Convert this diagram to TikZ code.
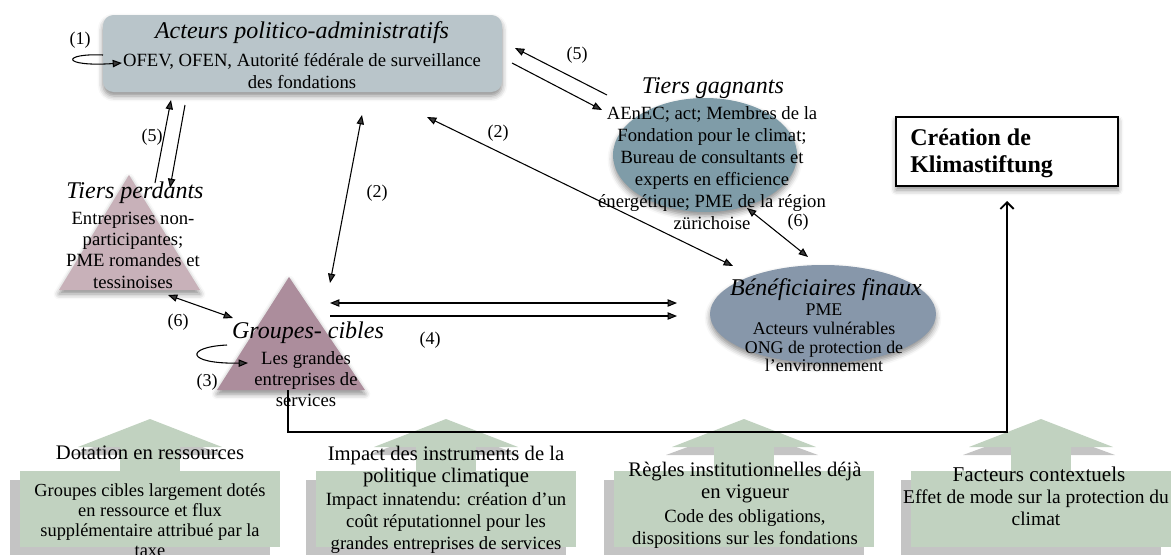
\documentclass[tikz,border=0pt]{standalone}
\usepackage{fontspec}
\setmainfont{Liberation Serif}
\usetikzlibrary{arrows.meta,shadows.blur}
\definecolor{actfill}{HTML}{B9C5CA}
\definecolor{gagfill}{HTML}{7F9CA8}
\definecolor{benfill}{HTML}{8797AA}
\definecolor{perfill}{HTML}{C8B1B9}
\definecolor{grpfill}{HTML}{AC8D9C}
\definecolor{facgreen}{HTML}{C1D2C0}
\definecolor{facgrey}{HTML}{C4C4C4}
\begin{document}
\begin{tikzpicture}[x=0.75pt,y=-0.75pt,
  softshadow/.style={blur shadow={shadow xshift=0pt,shadow yshift=-3pt,shadow blur radius=4pt,shadow opacity=45}},
  lbl/.style={font=\fontsize{13.5}{15}\selectfont,inner sep=0pt},
  ttl/.style={font=\fontsize{18}{20}\selectfont\itshape,inner sep=0pt},
  txt/.style={font=\fontsize{14}{16.5}\selectfont,align=center,inner sep=0pt},
  smtxt/.style={font=\fontsize{13.4}{13.9}\selectfont,align=center,inner sep=0pt},
  boldtxt/.style={font=\fontsize{18}{20}\selectfont\bfseries,align=left,inner sep=0pt},
  headtxt/.style={font=\fontsize{15.5}{16.5}\selectfont,align=center,inner sep=0pt},
  bodytxt/.style={font=\fontsize{14}{16.5}\selectfont,align=center,inner sep=0pt},
  arr/.style={-{Triangle[length=7pt,width=5.5pt]},line width=0.8pt},
  darr/.style={{Triangle[length=7pt,width=5.5pt]}-{Triangle[length=7pt,width=5.5pt]},line width=0.8pt}]
\useasboundingbox (0,0) rectangle (1171,554);
\clip (0,0) rectangle (1171,554);

% ---------- actor shapes ----------
\fill[actfill,rounded corners=8pt,softshadow] (103,15) rectangle (502,92);
\fill[gagfill,softshadow] (705,155) ellipse [x radius=69pt,y radius=42.75pt];
\fill[benfill,softshadow] (823,314) ellipse [x radius=84.75pt,y radius=36.75pt];
\fill[perfill,softshadow] (129,175) -- (59,290) -- (200,290) -- cycle;
\fill[grpfill,softshadow] (289,277) -- (217,390) -- (365,390) -- cycle;
\draw[line width=1.4pt,fill=white,softshadow] (896,117) rectangle (1118,186);

% ---------- up-arrow callouts (factors) ----------
\foreach \L/\C in {20/150,316/446,614/744,911/1041}{
  \fill[facgrey] (\L-10,480) rectangle (\L+250,560);
  \fill[facgrey] (\C-78,455) -- (\C-2,427) -- (\C+74,455) -- cycle;
  \fill[facgreen] (\C-72,447) -- (\C,419) -- (\C+72,447) -- cycle;
  \fill[facgreen] (\C-30,446) rectangle (\C+30,472);
  \fill[facgreen] (\L,471) rectangle (\L+260,547);
}

% ---------- texts ----------
\node[ttl] (actT) at (302,33) {Acteurs politico-administratifs};
\node[txt] (actB) at (302,71) {OFEV, OFEN, Autorité fédérale de surveillance\\des fondations};
\node[ttl] (gagT) at (713,88) {Tiers gagnants};
\node[txt] (gagB) at (712,168) {AEnEC; act; Membres de la\\Fondation pour le climat;\\Bureau de consultants et\\experts en efficience\\énergétique; PME de la région\\zürichoise};
\node[ttl] (perT) at (135,193) {Tiers perdants};
\node[txt,font=\fontsize{14}{16}\selectfont] (perB) at (133,250) {Entreprises non-\\participantes;\\PME romandes et\\tessinoises};
\node[ttl] (grpT) at (308,333) {Groupes- cibles};
\node[txt,font=\fontsize{14}{16}\selectfont] (grpB) at (306,379) {Les grandes\\entreprises de\\services};
\node[ttl] (benT) at (826,290) {Bénéficiaires finaux};
\node[smtxt] (benB) at (824,338) {PME\\Acteurs vulnérables\\ONG de protection de\\l’environnement};
\node[boldtxt,anchor=west] (creT) at (910,153) {Création de\\Klimastiftung};

\node[headtxt] (f1T) at (150,453) {Dotation en ressources};
\node[bodytxt,font=\fontsize{13.8}{15}\selectfont] (f1B) at (150,520) {Groupes cibles largement dotés\\en ressource et flux\\supplémentaire attribué par la\\taxe};
\node[headtxt] (f2T) at (446,467) {Impact des instruments de la\\politique climatique};
\node[bodytxt] (f2B) at (446,523) {Impact innatendu: création d’un\\coût réputationnel pour les\\grandes entreprises de services};
\node[headtxt] (f3T) at (745,483) {Règles institutionnelles déjà\\en vigueur};
\node[bodytxt] (f3B) at (745,529) {Code des obligations,\\dispositions sur les fondations};
\node[headtxt,font=\fontsize{15.8}{16.5}\selectfont] (f4T) at (1039,474) {Facteurs contextuels};
\node[bodytxt,font=\fontsize{14.6}{16.5}\selectfont] (f4B) at (1036,508) {Effet de mode sur la protection du\\climat};

% ---------- labels ----------
\node[lbl] (n1) at (80,40) {(1)};
\node[lbl] (n5a) at (152,137) {(5)};
\node[lbl] (n2a) at (377,193) {(2)};
\node[lbl] (n2b) at (498,133) {(2)};
\node[lbl] (n5b) at (577,55) {(5)};
\node[lbl] (n6a) at (798,222) {(6)};
\node[lbl] (n6b) at (178,322) {(6)};
\node[lbl] (n3) at (207,382) {(3)};
\node[lbl] (n4) at (430,340) {(4)};

% ---------- connector end points ----------
\coordinate (loopAs) at (103,55);  \coordinate (loopAe) at (122,63);
\coordinate (loopGs) at (227,345); \coordinate (loopGe) at (248,363);
\coordinate (pA1) at (155,183); \coordinate (aA1) at (171,100);
\coordinate (aA2) at (185,105); \coordinate (pA2) at (170,188);
\coordinate (aG) at (362,115);  \coordinate (gA) at (330,283);
\coordinate (aB) at (427,117);  \coordinate (bA) at (733,266);
\coordinate (tA1) at (607,95);  \coordinate (aT1) at (515,48);
\coordinate (aT2) at (512,63);  \coordinate (tA2) at (602,110);
\coordinate (tB) at (747,208);  \coordinate (bT) at (808,257);
\coordinate (pG) at (168,295);  \coordinate (gP) at (233,318);
\coordinate (gB1) at (330,303); \coordinate (bG1) at (677,303);
\coordinate (gB2) at (330,316); \coordinate (bG2) at (677,316);
\coordinate (gC) at (288,390);  \coordinate (cBend) at (1007,432);
\coordinate (cG) at (1007,201);

% ---------- connectors ----------
\draw[arr] (loopAs) .. controls (62,53) and (60,67) .. (loopAe);
\draw[arr] (loopGs) .. controls (185,347) and (185,364) .. (loopGe);
\draw[arr] (pA1) -- (aA1);
\draw[arr] (aA2) -- (pA2);
\draw[darr] (aG) -- (gA);
\draw[darr] (aB) -- (bA);
\draw[arr] (tA1) -- (aT1);
\draw[arr] (aT2) -- (tA2);
\draw[darr] (tB) -- (bT);
\draw[darr] (pG) -- (gP);
\draw[darr] (gB1) -- (bG1);
\draw[arr] (gB2) -- (bG2);
\draw[line width=1.1pt,-{Straight Barb[length=5pt,width=10pt,line width=1.4pt]}] (gC) |- (cBend) -- (cG);
\end{tikzpicture}
\end{document}
